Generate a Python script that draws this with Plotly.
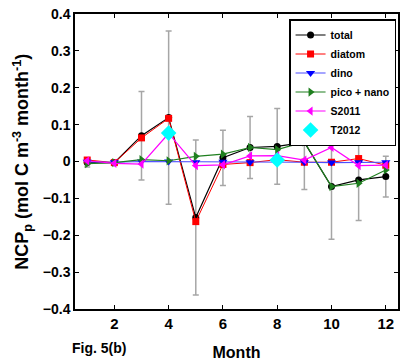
import plotly.graph_objects as go

months = [1, 2, 3, 4, 5, 6, 7, 8, 9, 10, 11, 12]
total = [-0.003, -0.003, 0.070, 0.119, -0.152, 0.010, 0.038, 0.041, 0.052, -0.068, -0.050, -0.041]
total_err = [0.012, 0.004, 0.120, 0.235, 0.210, 0.075, 0.084, 0.103, 0.128, 0.143, 0.110, 0.055]
diatom = [0.004, -0.003, 0.064, 0.117, -0.163, -0.008, -0.003, 0.005, -0.002, -0.002, 0.008, -0.010]
dino = [-0.001, -0.002, 0.000, 0.000, -0.002, -0.001, -0.002, 0.000, -0.002, -0.003, -0.002, -0.002]
pico_nano = [-0.006, -0.003, 0.005, 0.002, 0.014, 0.020, 0.038, 0.032, 0.053, -0.068, -0.059, -0.023]
s2011 = [0.002, -0.005, -0.007, 0.076, -0.011, -0.009, 0.015, 0.016, 0.004, 0.038, -0.011, -0.010]
t2012_months = [4, 8]
t2012 = [0.077, 0.004]

ytick_vals = [0.4, 0.3, 0.2, 0.1, 0, -0.1, -0.2, -0.3, -0.4]
ytick_text = ["0.4", "0.3", "0.2", "0.1", "0", "\u22120.1", "\u22120.2", "\u22120.3", "\u22120.4"]
xtick_vals = [2, 4, 6, 8, 10, 12]

FONT = "Liberation Sans"

fig = go.Figure()

# error bars (drawn first, behind lines)
fig.add_trace(go.Scatter(
    x=months, y=total, mode="markers",
    marker=dict(size=1, color="rgba(0,0,0,0)"),
    error_y=dict(type="data", array=total_err, visible=True,
                 color="#a6a6a6", thickness=1.5, width=3),
    showlegend=False, hoverinfo="skip"))

fig.add_trace(go.Scatter(x=months, y=total, name="total", mode="lines+markers",
                         line=dict(color="black", width=1.2),
                         marker=dict(symbol="circle", size=7, color="black")))
fig.add_trace(go.Scatter(x=months, y=diatom, name="diatom", mode="lines+markers",
                         line=dict(color="red", width=1),
                         marker=dict(symbol="square", size=7, color="red")))
fig.add_trace(go.Scatter(x=months, y=dino, name="dino", mode="lines+markers",
                         line=dict(color="#4d4dff", width=1.2),
                         marker=dict(symbol="triangle-down", size=8, color="blue")))
fig.add_trace(go.Scatter(x=months, y=pico_nano, name="pico + nano", mode="lines+markers",
                         line=dict(color="#1f7f1f", width=1.2),
                         marker=dict(symbol="triangle-right", size=8, color="#1f7f1f")))
fig.add_trace(go.Scatter(x=months, y=s2011, name="S2011", mode="lines+markers",
                         line=dict(color="#ff00ff", width=1.2),
                         marker=dict(symbol="triangle-left", size=8, color="#ff00ff")))
fig.add_trace(go.Scatter(x=t2012_months, y=t2012, name="T2012", mode="markers",
                         marker=dict(symbol="diamond", size=12, color="#00ffff")))

fig.update_layout(
    width=401, height=361,
    margin=dict(l=75, r=1, t=14, b=52),
    plot_bgcolor="white", paper_bgcolor="white",
    font=dict(family=FONT, color="black"),
    legend=dict(x=0.994, xanchor="right", y=0.983, yanchor="top",
                bgcolor="white", bordercolor="black", borderwidth=1.5,
                font=dict(family=FONT, size=10.5, weight="bold"),
                itemwidth=30, tracegroupgap=0),
)

fig.update_xaxes(range=[0.55, 12.45], tickvals=xtick_vals,
                 ticks="inside", ticklen=4, tickwidth=1, tickcolor="black",
                 showline=True, linecolor="black", linewidth=1.5, mirror="ticks",
                 showgrid=False, zeroline=False, ticklabeloverflow="allow",
                 tickfont=dict(family=FONT, size=15, weight="bold"),
                 title=dict(text="Month", font=dict(family=FONT, size=16, weight="bold"),
                            standoff=16))
fig.update_yaxes(range=[-0.4, 0.4], tickvals=ytick_vals, ticktext=ytick_text,
                 ticks="inside", ticklen=4, tickwidth=1, tickcolor="black",
                 showline=True, linecolor="black", linewidth=1.5, mirror="ticks",
                 showgrid=False, zeroline=False, ticklabeloverflow="allow",
                 tickfont=dict(family=FONT, size=14, weight="bold"))

fig.add_annotation(text="NCP<sub>p</sub> (mol C m<sup>-3</sup> month<sup>-1</sup>)",
                   xref="paper", yref="paper", x=(22 - 75) / 325, y=0.5,
                   xanchor="center", yanchor="middle", textangle=-90, showarrow=False,
                   font=dict(family=FONT, size=18, weight="bold"))
fig.add_annotation(text="Fig. 5(b)", xref="paper", yref="paper",
                   x=(70 - 75) / 325, y=-(348 - 309) / 295,
                   xanchor="left", yanchor="middle", showarrow=False,
                   font=dict(family=FONT, size=14, weight="bold"))

fig.write_html("out.html", config={"displayModeBar": False},
               post_script="document.body.style.margin='0';document.body.style.overflow='hidden';")
